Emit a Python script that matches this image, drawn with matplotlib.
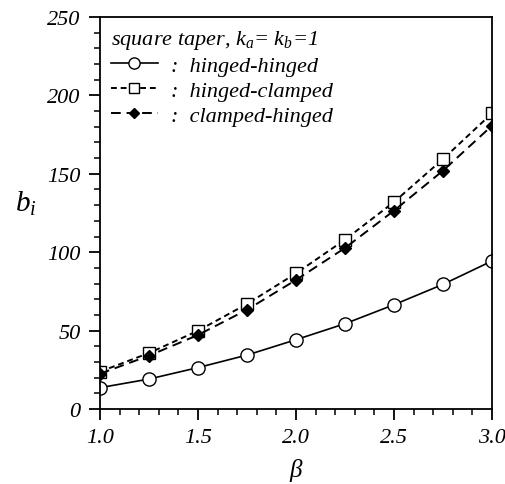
import numpy as np
import matplotlib.pyplot as plt
from matplotlib.ticker import MultipleLocator

# beta values and b_i for the three end conditions
beta = [1.0, 1.25, 1.5, 1.75, 2.0, 2.25, 2.5, 2.75, 3.0]
hh = [13.6, 19.1, 26.4, 34.4, 44.2, 54.4, 66.5, 79.5, 94.4]
hc = [23.8, 35.7, 49.9, 67.0, 86.5, 108.0, 132.0, 159.4, 188.6]
ch = [22.5, 34.0, 47.2, 63.3, 82.3, 102.7, 126.5, 152.0, 180.7]

plt.rcParams['font.family'] = 'Liberation Serif'
plt.rcParams['font.style'] = 'italic'
plt.rcParams['mathtext.fontset'] = 'custom'
plt.rcParams['mathtext.it'] = 'Liberation Serif:italic'
plt.rcParams['mathtext.rm'] = 'Liberation Serif:italic'

fig = plt.figure(figsize=(5.06, 4.85), dpi=100)
ax = fig.add_axes([100/506, 1-410/485, 392/506, 392/485])

ax.plot(beta, hh, 'k-', marker='o', mfc='white', ms=9.5, lw=1.2, label=':  hinged-hinged')
ax.plot(beta, hc, 'k', ls=(0, (3, 2)), marker='s', mfc='white', ms=8.5, lw=1.4, label=':  hinged-clamped')
ax.plot(beta, ch, 'k', ls=(0, (5, 3)), marker='D', ms=6.5, lw=1.4, label=':  clamped-hinged')

ax.set_xlim(1.0, 3.0)
ax.set_ylim(0, 250)
ax.xaxis.set_major_locator(MultipleLocator(0.5))
ax.xaxis.set_minor_locator(MultipleLocator(0.1))
ax.yaxis.set_major_locator(MultipleLocator(50))
ax.yaxis.set_minor_locator(MultipleLocator(10))
ax.xaxis.set_major_formatter(plt.FormatStrFormatter('%.1f'))
ax.tick_params(which='major', direction='out', length=8, width=1.3, labelsize=16, pad=6)
ax.tick_params(which='minor', direction='out', length=4, width=1.1)
for s in ax.spines.values():
    s.set_linewidth(1.3)

ax.set_xlabel(r'$\beta$', fontsize=18, labelpad=6)
ax.set_ylabel(r'$b_i$', fontsize=21, rotation=0)
ax.yaxis.set_label_coords(-0.19, 0.49)

leg = ax.legend(loc='upper left', frameon=False, fontsize=16,
                title=r'square taper, $k_a$= $k_b$=1', title_fontsize=16,
                handlelength=2.1, handletextpad=0.6, borderaxespad=0.1,
                labelspacing=0.2, alignment='left', markerscale=0.85)

fig.savefig('out.png', dpi=100)
